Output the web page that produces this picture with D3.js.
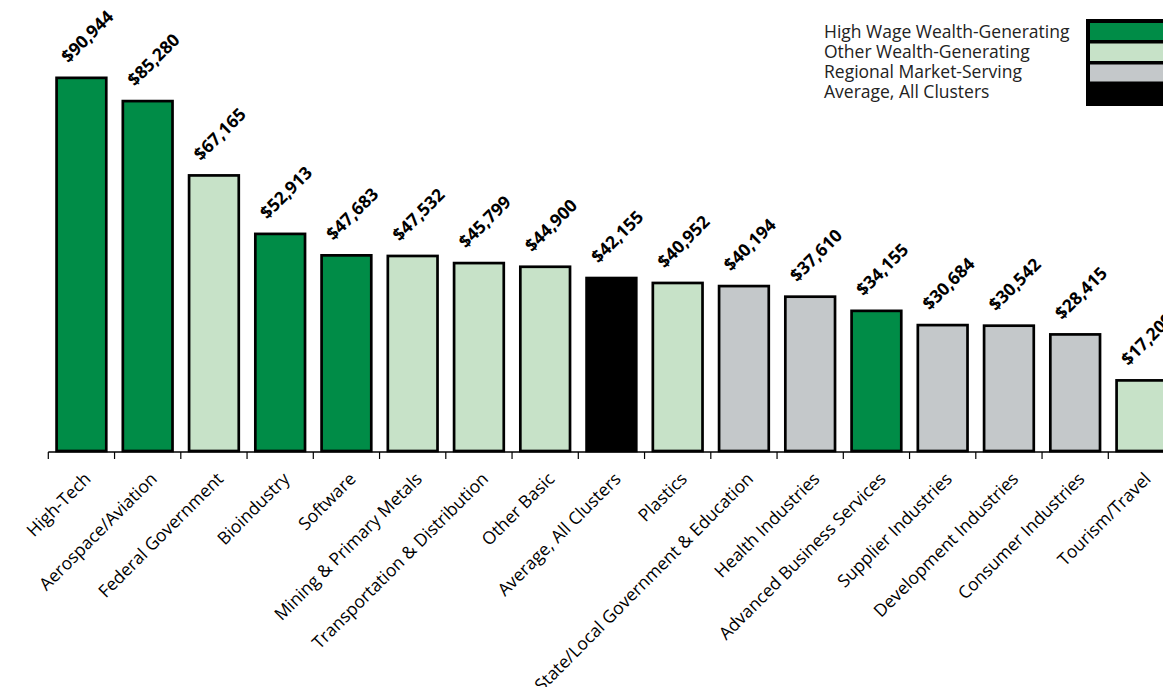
<!DOCTYPE html>
<html>
<head>
<meta charset="utf-8">
<script src="https://cdn.jsdelivr.net/npm/d3@7"></script>
<style>
  html, body { margin: 0; padding: 0; background: #fff; }
  svg { display: block; }
</style>
</head>
<body>
<svg id="chart" width="1163" height="687"></svg>
<script>
// ---- data ----
const categories = [
  "High-Tech", "Aerospace/Aviation", "Federal Government", "Bioindustry", "Software",
  "Mining & Primary Metals", "Transportation & Distribution", "Other Basic",
  "Average, All Clusters", "Plastics", "State/Local Government & Education",
  "Health Industries", "Advanced Business Services", "Supplier Industries",
  "Development Industries", "Consumer Industries", "Tourism/Travel"
];
const wages = [
  90944, 85280, 67165, 52913, 47683, 47532, 45799, 44900, 42155, 40952,
  40194, 37610, 34155, 30684, 30542, 28415, 17209
];
const groups = [
  "hw", "hw", "other", "hw", "hw", "other", "other", "other", "avg", "other",
  "regional", "regional", "hw", "regional", "regional", "regional", "other"
];
const legendKeys = ["hw", "other", "regional", "avg"];
const legendLabels = [
  "High Wage Wealth-Generating", "Other Wealth-Generating",
  "Regional Market-Serving", "Average, All Clusters"
];
const yDomain = [0, 100000];

// ---- styles ----
const colors = { hw: "#008c47", other: "#c7e2c8", regional: "#c4c8ca", avg: "#000000" };
const FONT = "'Open Sans', 'Noto Sans', sans-serif";

const svg = d3.select("#chart");

const x = d3.scaleBand()
  .domain(categories)
  .range([48.3, 48.3 + 17 * 66.25])
  .paddingInner(0.25)
  .paddingOuter(0.125);

const y = d3.scaleLinear().domain(yDomain).range([451, 40.7]);

const data = categories.map((c, i) => ({ cat: c, v: wages[i], g: groups[i] }));

// bars
svg.append("g").selectAll("rect")
  .data(data)
  .join("rect")
  .attr("x", d => x(d.cat))
  .attr("y", d => y(d.v))
  .attr("width", x.bandwidth())
  .attr("height", d => y(0) - y(d.v))
  .attr("fill", d => colors[d.g])
  .attr("stroke", "#000")
  .attr("stroke-width", 2.7);

// axis line + ticks at band boundaries
const step = x.step();
const x0 = x.range()[0];
const axisG = svg.append("g").attr("stroke", "#000");
axisG.append("line")
  .attr("x1", x0).attr("x2", 1163)
  .attr("y1", 452).attr("y2", 452)
  .attr("stroke-width", 1.4);
const tickPos = d3.range(categories.length + 1).map(i => x0 + i * step);
axisG.selectAll("line.tick")
  .data(tickPos)
  .join("line")
  .attr("class", "tick")
  .attr("x1", d => d).attr("x2", d => d)
  .attr("y1", 452).attr("y2", 459)
  .attr("stroke-width", 1.2);

// category labels
svg.append("g").selectAll("text")
  .data(data)
  .join("text")
  .attr("transform", d => `translate(${x(d.cat) + x.bandwidth() / 2 + 10.5},480) rotate(-45)`)
  .attr("text-anchor", "end")
  .attr("font-family", FONT)
  .attr("font-size", 17.5)
  .attr("fill", "#000")
  .text(d => d.cat);

// value labels
const fmt = d3.format(",");
const vlab = svg.append("g").selectAll("text")
  .data(data)
  .join("text")
  .attr("font-family", FONT)
  .attr("font-size", 17.5)
  .attr("font-weight", "bold")
  .attr("fill", "#000")
  .text(d => "$" + fmt(d.v));
vlab.each(function(d) {
  const L = this.getComputedTextLength();
  const cx = x(d.cat) + x.bandwidth() / 2;
  const ox = cx - (L - 9) * 0.7071 / 2 + 7;
  const oy = y(d.v) - 14;
  d3.select(this).attr("transform", `translate(${ox},${oy}) rotate(-45)`);
});

// legend
const lg = svg.append("g");
lg.append("rect").attr("x", 1086).attr("y", 19).attr("width", 90).attr("height", 87).attr("fill", "#000");
const rowY = [23, 43.5, 64.5, 85];
const rowH = [17, 17.5, 17, 21];
lg.selectAll("rect.sw")
  .data(legendKeys)
  .join("rect")
  .attr("class", "sw")
  .attr("x", 1090)
  .attr("y", (d, i) => rowY[i])
  .attr("width", 90)
  .attr("height", (d, i) => rowH[i])
  .attr("fill", d => colors[d]);
lg.selectAll("text")
  .data(legendLabels)
  .join("text")
  .attr("x", 824)
  .attr("y", (d, i) => 37.5 + i * 20)
  .attr("font-family", FONT)
  .attr("font-size", 17.5)
  .attr("fill", "#222")
  .text(d => d);
</script>
</body>
</html>
